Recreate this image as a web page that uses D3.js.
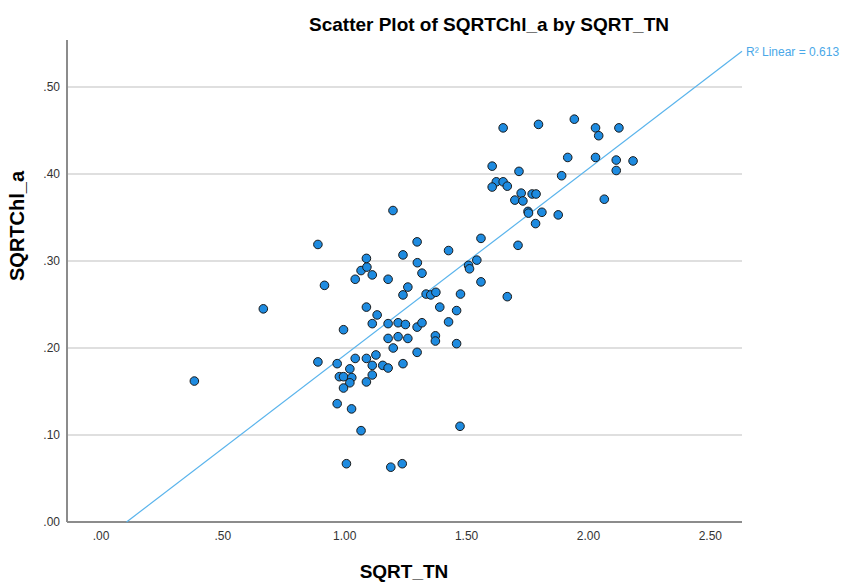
<!DOCTYPE html>
<html>
<head>
<meta charset="utf-8">
<script src="https://cdn.jsdelivr.net/npm/d3@7"></script>
<style>
  body { margin: 0; background: #fff; }
  svg { font-family: "Liberation Sans", Arial, sans-serif; }
  .grid line { stroke: #d4d4d4; stroke-width: 1.5; }
  .axis path { stroke: #8c8c8c; stroke-width: 2; }
  .axis text { fill: #333; font-size: 12px; }
</style>
</head>
<body>
<svg id="chart" width="846" height="583"></svg>
<script>
/* SQRT_TN (x) and SQRTChl_a (y), one entry per point */
var SQRT_TN = [0.385, 0.668, 0.892, 0.919, 0.892, 0.971, 0.997, 0.980, 0.997, 1.031,
    1.023, 1.023, 0.997, 0.971, 1.030, 1.069, 1.009, 1.045, 1.045, 1.069,
    1.093, 1.091, 1.115, 1.091, 1.135, 1.115, 1.091, 1.130, 1.115, 1.115,
    1.091, 1.158, 1.180, 1.180, 1.180, 1.180, 1.200, 1.201, 1.221, 1.221,
    1.241, 1.241, 1.261, 1.251, 1.261, 1.241, 1.191, 1.238, 1.299, 1.300,
    1.319, 1.336, 1.355, 1.376, 1.299, 1.319, 1.299, 1.374, 1.374, 1.392,
    1.428, 1.428, 1.461, 1.461, 1.477, 1.475, 1.510, 1.514, 1.544, 1.561,
    1.561, 1.669, 1.713, 1.607, 1.624, 1.607, 1.652, 1.669, 1.652, 1.717,
    1.726, 1.771, 1.787, 1.700, 1.733, 1.754, 1.756, 1.811, 1.785, 1.797,
    1.878, 1.892, 1.917, 1.944, 2.031, 2.044, 2.127, 2.031, 2.116, 2.185,
    2.116, 2.067];
var SQRTChl_a = [0.162, 0.245, 0.319, 0.272, 0.184, 0.182, 0.221, 0.167, 0.167, 0.166,
    0.176, 0.160, 0.154, 0.136, 0.130, 0.105, 0.067, 0.188, 0.279, 0.289,
    0.293, 0.303, 0.284, 0.247, 0.238, 0.228, 0.188, 0.192, 0.180, 0.169,
    0.161, 0.180, 0.177, 0.211, 0.228, 0.279, 0.358, 0.200, 0.229, 0.213,
    0.307, 0.261, 0.270, 0.227, 0.211, 0.182, 0.063, 0.067, 0.322, 0.298,
    0.286, 0.262, 0.261, 0.264, 0.224, 0.229, 0.195, 0.214, 0.208, 0.247,
    0.312, 0.230, 0.243, 0.205, 0.262, 0.110, 0.295, 0.291, 0.301, 0.326,
    0.276, 0.259, 0.318, 0.409, 0.391, 0.385, 0.391, 0.386, 0.453, 0.403,
    0.378, 0.377, 0.377, 0.370, 0.369, 0.357, 0.355, 0.356, 0.343, 0.457,
    0.353, 0.398, 0.419, 0.463, 0.453, 0.444, 0.453, 0.419, 0.416, 0.415,
    0.404, 0.371];

var X_TICKS = [0, 0.5, 1, 1.5, 2, 2.5];
var Y_TICKS = [0, 0.1, 0.2, 0.3, 0.4, 0.5];
var R2_LABEL = "R\u00b2 Linear = 0.613";

function init() {
    var svg = d3.select("#chart");
    var margin = {top: 40, right: 104, bottom: 61, left: 67};
    var width = svg.attr("width") - margin.left - margin.right;
    var height = svg.attr("height") - margin.top - margin.bottom;
    var g = svg.append("g").attr("transform", "translate(" + margin.left + "," + margin.top + ")");

    var x = d3.scaleLinear().domain([-0.1375, 2.632]).range([0, width]);
    var y = d3.scaleLinear().domain([0, 0.554]).range([height, 0]);

    var fmt = function (d) { return d3.format(".2f")(d).replace(/^0\./, "."); };

    /* gridlines */
    g.append("g").attr("class", "grid")
        .selectAll("line")
        .data(Y_TICKS.filter(function (d) { return d > 0; }))
        .enter().append("line")
        .attr("x1", 0).attr("x2", width)
        .attr("y1", function (d) { return y(d); })
        .attr("y2", function (d) { return y(d); });

    /* axes */
    var xAxis = g.append("g").attr("class", "axis")
        .attr("transform", "translate(0," + height + ")")
        .call(d3.axisBottom(x).tickValues(X_TICKS).tickSize(0).tickPadding(9).tickFormat(fmt));
    var yAxis = g.append("g").attr("class", "axis")
        .call(d3.axisLeft(y).tickValues(Y_TICKS).tickSize(0).tickPadding(7).tickFormat(fmt));
    xAxis.select(".domain").attr("d", "M0,0H" + width);
    yAxis.select(".domain").attr("d", "M0,0V" + height);

    /* least squares fit */
    var points = SQRT_TN.map(function (v, i) { return [v, SQRTChl_a[i]]; });
    var mx = d3.mean(SQRT_TN), my = d3.mean(SQRTChl_a);
    var sxy = d3.sum(points, function (p) { return (p[0] - mx) * (p[1] - my); });
    var sxx = d3.sum(points, function (p) { return (p[0] - mx) * (p[0] - mx); });
    var slope = sxy / sxx;
    var intercept = my - slope * mx;
    var xDom = x.domain();
    var x0 = Math.max(xDom[0], -intercept / slope);
    var x1 = xDom[1];

    g.append("line")
        .attr("x1", x(x0)).attr("y1", y(slope * x0 + intercept))
        .attr("x2", x(x1)).attr("y2", y(slope * x1 + intercept))
        .attr("stroke", "#5ab4ec").attr("stroke-width", 1.2);

    g.append("text")
        .attr("x", x(x1) + 4)
        .attr("y", y(slope * x1 + intercept) + 5)
        .attr("fill", "#4aa8e8")
        .style("font-size", "12px")
        .text(R2_LABEL);

    /* points */
    g.append("g").selectAll("circle")
        .data(points).enter()
        .append("circle")
        .attr("cx", function (d) { return x(d[0]); })
        .attr("cy", function (d) { return y(d[1]); })
        .attr("r", 4.3)
        .attr("fill", "#1e8be0")
        .attr("stroke", "#1a1a1a")
        .attr("stroke-width", 1);

    /* titles */
    svg.append("text")
        .attr("x", 489).attr("y", 31)
        .attr("text-anchor", "middle")
        .style("font-size", "19px").style("font-weight", "bold")
        .text("Scatter Plot of SQRTChl_a by SQRT_TN");
    svg.append("text")
        .attr("x", 404).attr("y", 578)
        .attr("text-anchor", "middle")
        .style("font-size", "19px").style("font-weight", "bold")
        .text("SQRT_TN");
    svg.append("text")
        .attr("transform", "translate(24,226) rotate(-90)")
        .attr("text-anchor", "middle")
        .style("font-size", "20px").style("font-weight", "bold")
        .text("SQRTChl_a");
}

init();
</script>
</body>
</html>
